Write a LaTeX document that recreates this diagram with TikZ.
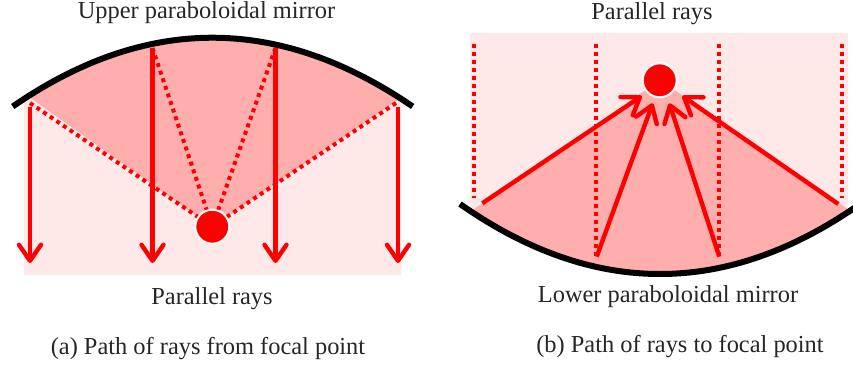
\documentclass[tikz,border=0pt]{standalone}
\usepackage{fontspec}
\setmainfont{Liberation Serif}
\usetikzlibrary{arrows.meta}
\definecolor{lightpink}{HTML}{FFE8E8}
\definecolor{darkpink}{HTML}{FFAEAE}
\definecolor{rayred}{HTML}{FF0000}
\tikzset{
  mirror/.style={line width=6pt,black},
  solidray/.style={line width=4.4pt,rayred,-{Straight Barb[length=16pt,width=22pt,line width=4.4pt,round]}},
  dotray/.style={line width=4pt,rayred,dash pattern=on 4pt off 4pt},
  focus/.style={circle,fill=rayred,draw=white,line width=2pt,minimum size=34pt,inner sep=0pt},
  lbl/.style={font=\fontsize{24.4pt}{26pt}\selectfont,text=black!85,inner sep=0pt,anchor=base},
}
\begin{document}
\begin{tikzpicture}[x=1pt,y=-1pt]
\useasboundingbox (0,0) rectangle (853,366);
% left panel
\fill[lightpink] (24,275) -- plot[domain=24:401,samples=60] (\x,{37.7+0.00172*(\x-212)*(\x-212)}) -- (401,275) -- cycle;
\fill[darkpink] (212,227) -- plot[domain=28:400,samples=60] (\x,{37.7+0.00172*(\x-212)*(\x-212)}) -- cycle;
\node[focus] (fa) at (212.3,226.7) {};
\coordinate (am1) at (30,103); \coordinate (am2) at (152.5,48);
\coordinate (am3) at (275.5,48); \coordinate (am4) at (396,103);
\draw[dotray] (am1) -- (fa);
\draw[dotray] (am2) -- (fa);
\draw[dotray] (am3) -- (fa);
\draw[dotray] (am4) -- (fa);
\coordinate (as1) at (30,107); \coordinate (ae1) at (30,263);
\coordinate (as2) at (152.5,48); \coordinate (ae2) at (152.5,263);
\coordinate (as3) at (275.5,48); \coordinate (ae3) at (275.5,263);
\coordinate (as4) at (398,107); \coordinate (ae4) at (398,263);
\foreach \i in {1,2,3,4} \draw[solidray] (as\i) -- (ae\i);
\draw[mirror] (12.7,106.5) .. controls (145.6,14.8) and (278.8,14.8) .. (412.7,106.5);
\node[lbl] (ta) at (206.5,19) {Upper paraboloidal mirror};
\node[lbl] (tb) at (212,304) {Parallel rays};
\node[lbl] (tc) at (208,354) {(a) Path of rays from focal point};
% right panel
\fill[lightpink] (470,33) -- (848,33) -- plot[domain=848:470,samples=60] (\x,{274-0.00175*(\x-660)*(\x-660)}) -- cycle;
\fill[darkpink] (660,80) -- plot[domain=471:850,samples=60] (\x,{274-0.00175*(\x-660)*(\x-660)}) -- cycle;
\coordinate (bt1) at (474,44); \coordinate (bb1) at (474,198);
\coordinate (bt2) at (596,44); \coordinate (bb2) at (596,257);
\coordinate (bt3) at (719,44); \coordinate (bb3) at (719,257);
\coordinate (bt4) at (842,44); \coordinate (bb4) at (842,198);
\foreach \i in {1,2,3,4} \draw[dotray] (bt\i) -- (bb\i);
\node[focus] (fb) at (659.7,80.3) {};
\coordinate (bs1) at (482.3,203.3); \coordinate (be1) at (641.7,96);
\coordinate (bs2) at (596.7,256.7); \coordinate (be2) at (652.7,103.3);
\coordinate (bs3) at (719.3,256.7); \coordinate (be3) at (669.3,103.3);
\coordinate (bs4) at (838.3,204); \coordinate (be4) at (682.3,96);
\foreach \i in {1,2,3,4} \draw[solidray] (bs\i) -- (be\i);
\draw[mirror] (460,204) .. controls (526.7,250.7) and (593.3,274) .. (660,274) .. controls (726.7,274) and (793.3,250.7) .. (860,204);
\node[lbl] (td) at (652,20) {Parallel rays};
\node[lbl] (te) at (668,302) {Lower paraboloidal mirror};
\node[lbl] (tf) at (680,352) {(b) Path of rays to focal point};
\end{tikzpicture}
\end{document}
